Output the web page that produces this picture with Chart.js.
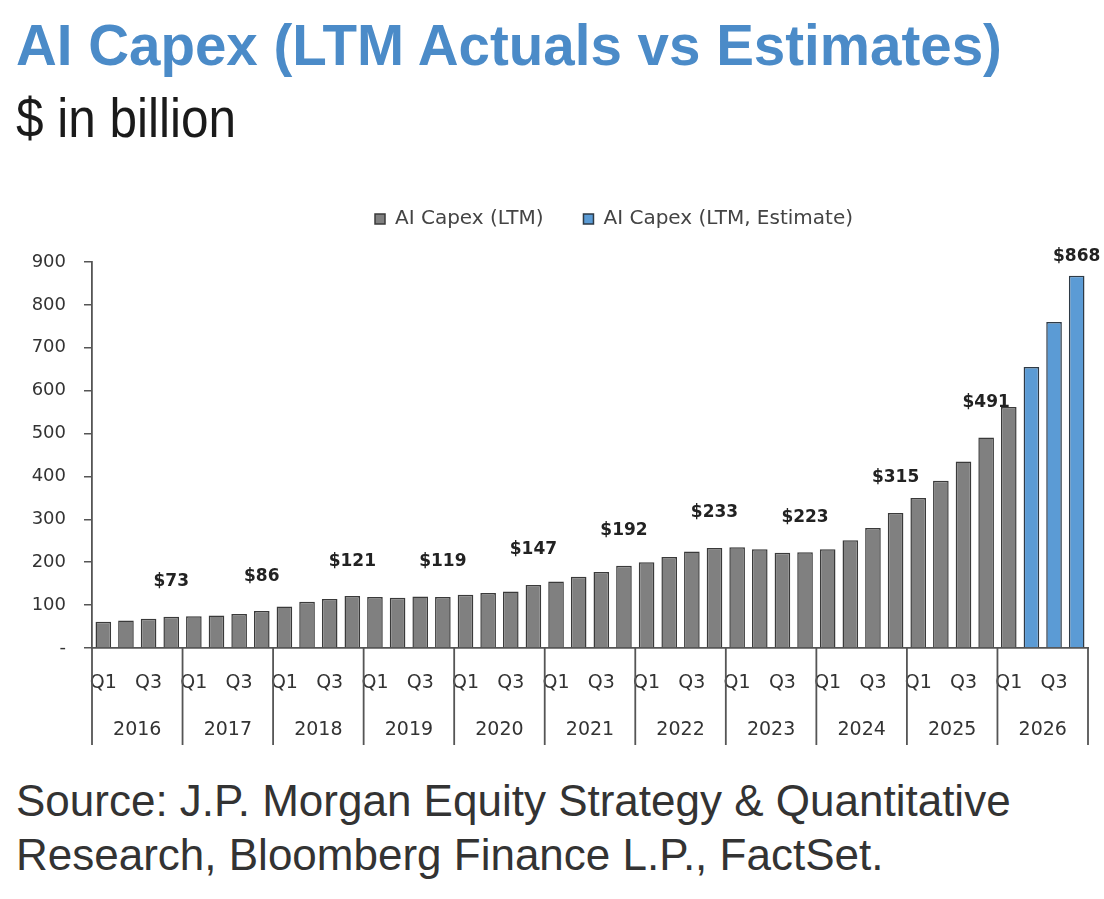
<!DOCTYPE html>
<html><head><meta charset="utf-8">
<script src="https://cdn.jsdelivr.net/npm/chart.js@4.4.0/dist/chart.umd.min.js"></script>
<style>
html,body{margin:0;padding:0;background:#fff;}
body{width:1104px;height:899px;position:relative;overflow:hidden;font-family:"Liberation Sans",Arial,sans-serif;}
.txt{position:absolute;white-space:nowrap;transform-origin:0 0;}
#title{left:16px;top:18px;font-size:56.5px;line-height:56px;font-weight:bold;color:#4b8bc8;}
#subtitle{left:16px;top:91px;font-size:55px;line-height:55px;color:#1a1a1a;transform:scaleX(0.9);}
#source{left:16px;top:774px;font-size:44px;line-height:54px;color:#333;}
#chart{position:absolute;left:0;top:160px;}
</style></head>
<body>
<div id="title" class="txt">AI Capex (LTM Actuals vs Estimates)</div>
<div id="subtitle" class="txt">$ in billion</div>
<canvas id="chart" width="1104" height="600"></canvas>
<div id="source" class="txt">Source: J.P. Morgan Equity Strategy &amp; Quantitative<br>Research, Bloomberg Finance L.P., FactSet.</div>
<script>
// ---- data ----
const years = ['2016','2017','2018','2019','2020','2021','2022','2023','2024','2025','2026'];
const quarters = ['Q1','Q2','Q3','Q4'];
const actualValues = [
  61, 64, 68, 73,
  74, 76, 79, 86,
  97, 108, 114, 121,
  119, 117, 120, 119,
  124, 128, 132, 147,
  155, 166, 177, 192,
  200, 212, 225, 233,
  235, 230, 222, 223,
  230, 251, 280, 315,
  350, 390, 435, 491,
  562
];
const estimateValues = [655, 760, 868];
const yTicks = [0,100,200,300,400,500,600,700,800,900];

// ---- build ----
const categories = [];
years.forEach(y => quarters.forEach(q => categories.push(q + ' ' + y)));
const actualData = categories.map((c, i) => i < actualValues.length ? actualValues[i] : null);
const estimateData = categories.map((c, i) => {
  const k = i - actualValues.length;
  return k >= 0 && k < estimateValues.length ? estimateValues[k] : null;
});

const AXIS = '#555555';
const FONT = '"DejaVu Sans", "Liberation Sans", Arial, sans-serif';

const layoutPlugin = {
  id: 'layoutTweak',
  beforeInit(chart) {
    const lg = chart.legend;
    if (lg) {
      const orig = lg.fit.bind(lg);
      lg.fit = function () { orig(); this.height = 93; };
    }
  },
  afterLayout(chart) {
    const lg = chart.legend;
    if (lg) { lg.left += 70; lg.right += 70; }
  }
};

const annotatePlugin = {
  id: 'annotate',
  afterDraw(chart) {
    const ctx = chart.ctx;
    const xs = chart.scales.x;
    const area = chart.chartArea;
    const slot = xs.getPixelForValue(1) - xs.getPixelForValue(0);
    ctx.save();
    // year separators & labels
    ctx.strokeStyle = AXIS;
    ctx.lineWidth = 1.8;
    ctx.fillStyle = '#333';
    ctx.font = '19px ' + FONT;
    ctx.textAlign = 'center';
    ctx.textBaseline = 'middle';
    for (let i = 0; i <= years.length; i++) {
      const bx = xs.getPixelForValue(i * 4) - slot / 2;
      ctx.beginPath();
      ctx.moveTo(bx, area.bottom);
      ctx.lineTo(bx, area.bottom + 97);
      ctx.stroke();
      if (i < years.length) {
        ctx.fillText(years[i], bx + slot * 2, area.bottom + 82);
      }
    }
    // value labels on each Q4
    ctx.font = 'bold 17px ' + FONT;
    ctx.fillStyle = '#222';
    categories.forEach((c, i) => {
      if (i % 4 !== 3) return;
      const dsIndex = actualData[i] != null ? 0 : 1;
      const v = dsIndex === 0 ? actualData[i] : estimateData[i];
      const el = chart.getDatasetMeta(dsIndex).data[i];
      const y = Math.max(el.y - 35, area.top - 5);
      ctx.fillText('$' + v, el.x, y);
    });
    ctx.restore();
  }
};

new Chart(document.getElementById('chart'), {
  type: 'bar',
  data: {
    labels: categories,
    datasets: [
      { label: 'AI Capex (LTM)', data: actualData, backgroundColor: '#808080', borderColor: '#3a3a3a', borderWidth: 1.5 },
      { label: 'AI Capex (LTM, Estimate)', data: estimateData, backgroundColor: '#5b9bd5', borderColor: '#2e3a46', borderWidth: 1.5 }
    ]
  },
  options: {
    responsive: false,
    animation: false,
    devicePixelRatio: 1,
    layout: { padding: { top: 9, left: 0, right: 16, bottom: 0 } },
    datasets: { bar: { grouped: false, categoryPercentage: 1, barPercentage: 0.69 } },
    plugins: {
      legend: {
        position: 'top',
        labels: { boxWidth: 10, boxHeight: 10, padding: 40, color: '#444', font: { family: FONT, size: 20 } }
      },
      tooltip: { enabled: false }
    },
    scales: {
      x: {
        grid: { display: true, drawOnChartArea: false, drawTicks: false },
        border: { display: true, color: AXIS, width: 1.8 },
        ticks: {
          autoSkip: false, maxRotation: 0, minRotation: 0, padding: 24,
          color: '#333', font: { family: FONT, size: 19 },
          callback: (v, i) => (i % 4 === 0 ? 'Q1' : (i % 4 === 2 ? 'Q3' : ''))
        },
        afterFit: s => { s.height = 112; }
      },
      y: {
        min: 0, max: 900,
        afterBuildTicks: s => { s.ticks = yTicks.map(v => ({ value: v })); },
        grid: { display: true, drawOnChartArea: false, drawTicks: true, tickLength: 8, color: AXIS, lineWidth: 1.5 },
        border: { display: true, color: AXIS, width: 1.8 },
        ticks: {
          padding: 18, color: '#333', font: { family: FONT, size: 18 },
          callback: v => (v === 0 ? '-' : String(v))
        },
        afterFit: s => { s.width = 92; }
      }
    }
  },
  plugins: [layoutPlugin, annotatePlugin]
});
</script>
</body></html>
